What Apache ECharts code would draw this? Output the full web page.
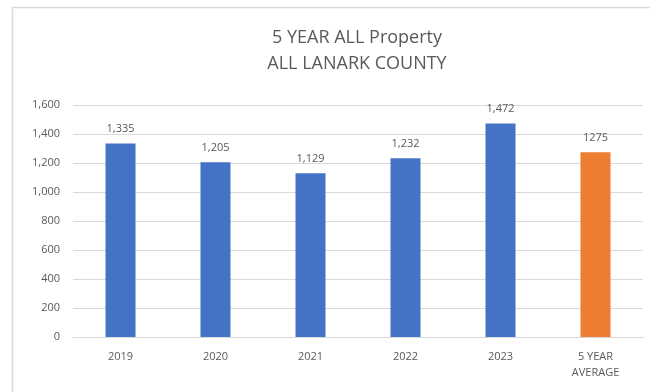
<!DOCTYPE html>
<html><head><meta charset="utf-8">
<script src="https://cdn.jsdelivr.net/npm/echarts@6/dist/echarts.min.js"></script>
<style>html,body{margin:0;padding:0;background:#fff}#c{width:650px;height:392px}</style>
</head><body><div id="c"></div>
<script>
var categories = ['2019', '2020', '2021', '2022', '2023', '5 YEAR\nAVERAGE'];
var values = [1335, 1205, 1129, 1232, 1472, 1275];
var valueLabels = ['1,335', '1,205', '1,129', '1,232', '1,472', '1275'];
var barColors = ['#4472C4', '#4472C4', '#4472C4', '#4472C4', '#4472C4', '#ED7D31'];
var yTicks = [0, 200, 400, 600, 800, 1000, 1200, 1400, 1600];

var chart = echarts.init(document.getElementById('c'));
var font = 'Open Sans, Lato, sans-serif';
chart.setOption({
  animation: false,
  textStyle: {fontFamily: font},
  graphic: [{
    type: 'rect', silent: true, z: -10,
    shape: {x: 12.5, y: 7.5, width: 700, height: 500},
    style: {fill: '#fff', stroke: '#d9d9d9', lineWidth: 1.5}
  }],
  title: {
    text: '5 YEAR ALL Property\nALL LANARK COUNTY',
    left: 352, top: 20, textAlign: 'center',
    textStyle: {fontFamily: font, fontSize: 18, fontWeight: 'normal', color: '#595959', lineHeight: 26}
  },
  grid: {left: 73, right: 7, top: 105, bottom: 55, containLabel: false},
  xAxis: {
    type: 'category', data: categories,
    axisLine: {lineStyle: {color: '#d9d9d9'}},
    axisTick: {show: false},
    axisLabel: {color: '#595959', fontSize: 11, margin: 12, lineHeight: 16, fontFamily: font}
  },
  yAxis: {
    type: 'value', min: yTicks[0], max: yTicks[yTicks.length - 1], interval: 200,
    axisLine: {show: false}, axisTick: {show: false},
    splitLine: {lineStyle: {color: '#d9d9d9'}},
    axisLabel: {color: '#595959', fontSize: 11, margin: 13, fontFamily: font,
      formatter: function (v) { return v.toLocaleString('en-US'); }}
  },
  series: [{
    type: 'bar', barWidth: 30,
    data: values.map(function (v, i) {
      return {value: v, itemStyle: {color: barColors[i]},
        label: {formatter: valueLabels[i]}};
    }),
    label: {show: true, position: 'top', distance: 9, color: '#595959', fontSize: 11, fontFamily: font}
  }]
});
</script></body></html>
